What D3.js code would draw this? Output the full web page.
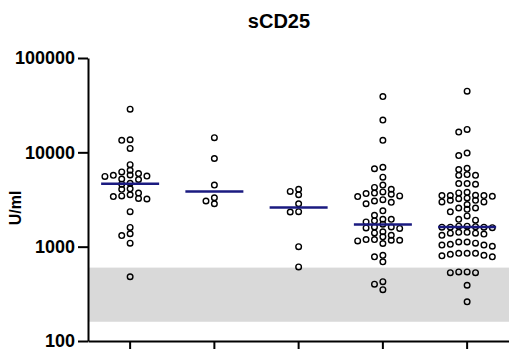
<!DOCTYPE html>
<html>
<head>
<meta charset="utf-8">
<script src="https://cdn.jsdelivr.net/npm/d3@7"></script>
<style>
  body { margin: 0; background: #fff; }
  text { font-family: Arial, "Liberation Sans", sans-serif; font-weight: bold; }
</style>
</head>
<body>
<div id="chart"></div>
<script>
// Data (U/ml)
const groups = ["1", "2", "3", "4", "5"];
const group1 = [28700, 13600, 13400, 11000, 7400, 6450, 6200, 5950, 5750, 5700, 5600, 5550, 5200, 5150,
    4700, 4600, 4100, 4050, 3700, 3550, 3450, 3400, 3250, 3200, 2350, 1600, 1370, 1310, 1090, 480];
const group2 = [14300, 8600, 4500, 3300, 3050, 2850];
const group3 = [4050, 3850, 3550, 2850, 2350, 2330, 1000, 610];
const group4 = [39000, 22000, 13400, 6950, 6700, 5450, 4500, 4250, 4050, 3800, 3700, 3650, 3600, 3450,
    3400, 3150, 3050, 2950, 2850, 2400, 2150, 1950, 1950, 1880, 1830, 1730, 1620, 1620, 1580, 1560,
    1440, 1400, 1320, 1270, 1190, 1190, 1170, 1170, 1150, 1080, 810, 780, 690, 425, 400, 350];
const group5 = [44500, 17500, 16400, 9830, 9230, 6770, 6560, 5810, 5710, 5710, 4670, 4670, 4590,
    3770, 3710, 3510, 3480, 3480, 3480, 3420, 3280, 3230, 3100, 3100, 2980, 2980,
    2800, 2570, 2570, 2490, 2340, 2120, 1950, 1910,
    1650, 1630, 1610, 1610, 1610, 1590, 1650, 1420, 1390, 1360, 1320, 1390, 1420,
    1120, 1090, 1040, 1010, 1040, 1060, 1120, 850, 830, 780, 800, 810, 850, 850,
    540, 530, 530, 540, 390, 260];
const medians = [4650, 3850, 2600, 1720, 1620];
const refRange = [160, 600];
const yTicks = [100, 1000, 10000, 100000];
const series = [group1, group2, group3, group4, group5];

const width = 509, height = 359;
const plotLeft = 88, plotTop = 58, plotBottom = 341;

const svg = d3.select("#chart")
    .append("svg")
    .attr("width", width)
    .attr("height", height);

const xScale = d3.scaleBand()
    .domain(groups)
    .range([plotLeft, plotLeft + 5 * 84.25])
    .padding(0);

const yScale = d3.scaleLog()
    .domain([100, 100000])
    .range([plotBottom, plotTop]);

// Normal range band
svg.append("rect")
    .attr("x", plotLeft)
    .attr("y", yScale(refRange[1]))
    .attr("width", width - plotLeft)
    .attr("height", yScale(refRange[0]) - yScale(refRange[1]))
    .attr("fill", "#d9d9d9");

// Points, placed in columns so they don't overlap (like a scatter dot plot)
const colStep = 8.4, minGap = 4.6;
series.forEach(function(vals, i) {
    const cx = xScale(groups[i]) + xScale.bandwidth() / 2;
    const placed = [];
    vals.slice().sort((a, b) => b - a).forEach(function(v) {
        const py = yScale(v);
        for (let k = 0; k < 20; k++) {
            const col = k === 0 ? 0 : (k % 2 ? -Math.ceil(k / 2) : Math.ceil(k / 2));
            const hit = placed.some(p => p.col === col && Math.abs(p.y - py) < minGap);
            if (!hit) { placed.push({ col: col, y: py }); break; }
        }
    });
    svg.append("g")
        .selectAll("circle")
        .data(placed)
        .enter()
        .append("circle")
        .attr("cx", d => cx + d.col * colStep)
        .attr("cy", d => d.y)
        .attr("r", 2.8)
        .attr("fill", "none")
        .attr("stroke", "#000")
        .attr("stroke-width", 1.4);

    // median line
    svg.append("line")
        .attr("x1", cx - 29)
        .attr("x2", cx + 29)
        .attr("y1", yScale(medians[i]))
        .attr("y2", yScale(medians[i]))
        .attr("stroke", "#1a1a80")
        .attr("stroke-width", 2.5);
});

// Axes
const yAxis = svg.append("g")
    .attr("transform", "translate(" + plotLeft + ",0)")
    .call(d3.axisLeft(yScale).tickValues(yTicks).tickFormat(d3.format("d"))
        .tickSize(10).tickSizeOuter(0).tickPadding(3));

const xAxis = svg.append("g")
    .attr("transform", "translate(0," + plotBottom + ")")
    .call(d3.axisBottom(xScale).tickFormat("").tickSize(8).tickSizeOuter(0));

[yAxis, xAxis].forEach(function(ax) {
    ax.select(".domain").attr("stroke-width", 2);
    ax.selectAll(".tick line").attr("stroke-width", 2);
});
yAxis.selectAll("text")
    .style("font-size", "18px")
    .style("font-weight", "bold")
    .attr("fill", "#000");

// Title
svg.append("text")
    .attr("x", 279)
    .attr("y", 28)
    .attr("text-anchor", "middle")
    .style("font-size", "20px")
    .text("sCD25");

// Y axis label
svg.append("text")
    .attr("transform", "translate(21,208) rotate(-90)")
    .attr("text-anchor", "middle")
    .style("font-size", "16px")
    .text("U/ml");
</script>
</body>
</html>
